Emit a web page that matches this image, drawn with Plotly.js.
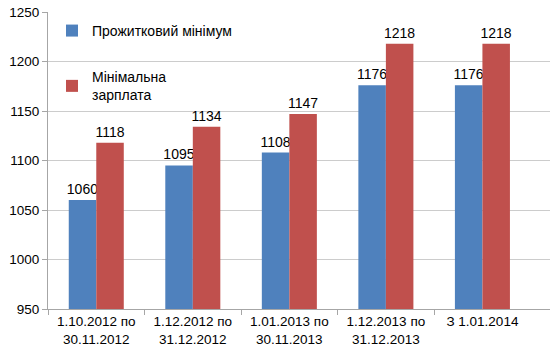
<!DOCTYPE html>
<html><head><meta charset="utf-8">
<script src="https://cdn.plot.ly/plotly-3.0.1.min.js"></script>
<style>body{margin:0;background:#fff}#c{width:550px;height:360px}</style>
</head><body><div id="c"></div>
<script>
const categories = ["1.10.2012 по<br>30.11.2012", "1.12.2012 по<br>31.12.2012", "1.01.2013 по<br>30.11.2013", "1.12.2013 по<br>31.12.2013", "З 1.01.2014"];
const seriesNames = ["Прожитковий мінімум", "Мінімальна<br>зарплата"];
const livingMin = [1060, 1095, 1108, 1176, 1176];
const minWage = [1118, 1134, 1147, 1218, 1218];
const yTicks = [950, 1000, 1050, 1100, 1150, 1200, 1250];

const idx = categories.map((_, i) => i);
const font = {family: "Liberation Sans, Arial, sans-serif", size: 13.5, color: "#000"};
const lfont = {family: "Liberation Sans, Arial, sans-serif", size: 14, color: "#000"};
const mk = (name, y, color, g) => ({
  type: "bar", x: idx, y: y, name: name, legendgroup: g,
  marker: {color: color}, text: y.map(String), textposition: "outside",
  constraintext: "none",
  textfont: {family: font.family, size: 14, color: "#000"}, cliponaxis: false, hoverinfo: "skip"
});
const data = [
  mk(seriesNames[0], livingMin, "#4F81BD", "a"),
  mk(seriesNames[1], minWage, "#C0504D", "b")
];
const layout = {
  width: 550, height: 360,
  margin: {l: 48, r: 0, t: 12, b: 51},
  paper_bgcolor: "#fff", plot_bgcolor: "#fff",
  font: font,
  barmode: "group", bargap: 0.43, bargroupgap: 0,
  xaxis: {range: [-0.5, 4.7], tickvals: idx, ticktext: categories,
          showgrid: false, zeroline: false, showline: true, linecolor: "#a6a6a6",
          ticks: "", tickfont: font, fixedrange: true},
  xaxis2: {range: [-0.5, 4.7], overlaying: "x", anchor: "y",
           tickvals: idx.map(i => i - 0.5), showticklabels: false,
           ticks: "outside", ticklen: 5, tickcolor: "#a6a6a6", showgrid: false, zeroline: false},
  yaxis: {range: [950, 1250], tickvals: yTicks, showgrid: true, gridcolor: "#cccccc",
          zeroline: false, showline: true, linecolor: "#a6a6a6", ticks: "outside",
          ticklen: 5, tickcolor: "#a6a6a6", tickfont: font, fixedrange: true},
  legend: {x: 0.008, y: 0.99, xanchor: "left", yanchor: "top", bgcolor: "rgba(0,0,0,0)",
           font: lfont, tracegroupgap: 25, itemwidth: 30},
  showlegend: true
};
data.push({type: "scatter", x: [0], y: [950], xaxis: "x2", mode: "markers",
           marker: {opacity: 0}, showlegend: false, hoverinfo: "skip"});
Plotly.newPlot("c", data, layout, {displayModeBar: false, staticPlot: true});
</script></body></html>
